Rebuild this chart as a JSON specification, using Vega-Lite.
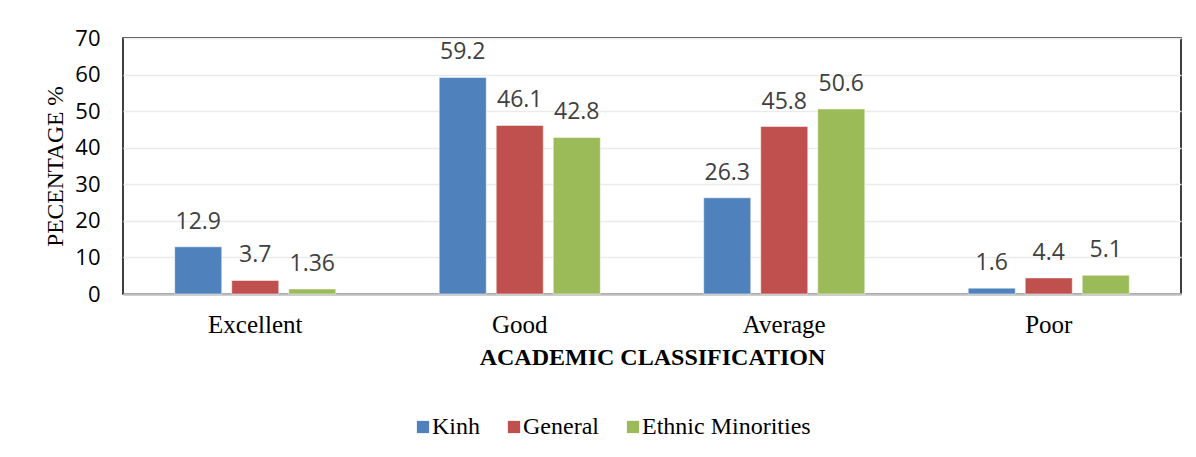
{
  "$schema": "https://vega.github.io/schema/vega-lite/v6.json",
  "width": 1058,
  "height": 256,
  "autosize": {"type": "none"},
  "padding": {"left": 123, "top": 38, "right": 15, "bottom": 163},
  "background": "white",
  "data": {
    "values": [
      {"cls": "Excellent", "group": "Kinh", "pct": 12.9, "label": "12.9"},
      {"cls": "Excellent", "group": "General", "pct": 3.7, "label": "3.7"},
      {"cls": "Excellent", "group": "Ethnic Minorities", "pct": 1.36, "label": "1.36"},
      {"cls": "Good", "group": "Kinh", "pct": 59.2, "label": "59.2"},
      {"cls": "Good", "group": "General", "pct": 46.1, "label": "46.1"},
      {"cls": "Good", "group": "Ethnic Minorities", "pct": 42.8, "label": "42.8"},
      {"cls": "Average", "group": "Kinh", "pct": 26.3, "label": "26.3"},
      {"cls": "Average", "group": "General", "pct": 45.8, "label": "45.8"},
      {"cls": "Average", "group": "Ethnic Minorities", "pct": 50.6, "label": "50.6"},
      {"cls": "Poor", "group": "Kinh", "pct": 1.6, "label": "1.6"},
      {"cls": "Poor", "group": "General", "pct": 4.4, "label": "4.4"},
      {"cls": "Poor", "group": "Ethnic Minorities", "pct": 5.1, "label": "5.1"}
    ]
  },
  "encoding": {
    "x": {
      "field": "cls",
      "type": "nominal",
      "sort": ["Excellent", "Good", "Average", "Poor"],
      "scale": {"paddingInner": 0.391, "paddingOuter": 0.1955},
      "axis": {
        "title": "ACADEMIC CLASSIFICATION",
        "titleFont": "Liberation Serif",
        "titleFontSize": 24,
        "titleFontWeight": "bold",
        "titleColor": "black",
        "titlePadding": 8,
        "labelFont": "Liberation Serif",
        "labelFontSize": 25,
        "labelColor": "black",
        "labelAngle": 0,
        "labelPadding": 18,
        "ticks": false,
        "domainColor": "#bfbfbf",
        "domainWidth": 2.5
      }
    },
    "xOffset": {
      "field": "group",
      "type": "nominal",
      "sort": ["Kinh", "General", "Ethnic Minorities"],
      "scale": {"paddingInner": 0.175, "paddingOuter": 0}
    },
    "y": {
      "field": "pct",
      "type": "quantitative",
      "scale": {"domain": [0, 70], "nice": false},
      "axis": {
        "title": "PECENTAGE %",
        "titleFont": "Liberation Serif",
        "titleFontSize": 23.5,
        "titleFontWeight": "normal",
        "titleColor": "black",
        "titleX": -56,
        "labelFont": "Open Sans",
        "labelFontSize": 22,
        "labelColor": "black",
        "labelPadding": 23,
        "values": [0, 10, 20, 30, 40, 50, 60, 70],
        "ticks": false,
        "domain": false,
        "gridColor": "#ebebeb",
        "gridWidth": 1.5
      }
    }
  },
  "layer": [
    {
      "mark": {"type": "bar", "stroke": "white", "strokeWidth": 0.5},
      "encoding": {
        "color": {
          "field": "group",
          "type": "nominal",
          "sort": ["Kinh", "General", "Ethnic Minorities"],
          "scale": {
            "domain": ["Kinh", "General", "Ethnic Minorities"],
            "range": ["#4f81bd", "#c0504d", "#9bbb59"]
          },
          "legend": {
            "title": null,
            "orient": "none",
            "direction": "horizontal",
            "legendX": 288,
            "legendY": 377,
            "padding": 0,
            "symbolType": "square",
            "symbolSize": 150,
            "symbolStrokeWidth": 0,
            "labelFont": "Liberation Serif",
            "labelFontSize": 24,
            "labelColor": "black",
            "labelLimit": 400,
            "labelOffset": -3,
            "columnPadding": 22
          }
        }
      }
    },
    {
      "mark": {
        "type": "text",
        "baseline": "bottom",
        "dy": -13,
        "font": "Open Sans",
        "fontSize": 23,
        "color": "#404040"
      },
      "encoding": {
        "text": {"field": "label", "type": "nominal"}
      }
    }
  ],
  "config": {
    "view": {"stroke": "black", "strokeWidth": 1.5}
  }
}
